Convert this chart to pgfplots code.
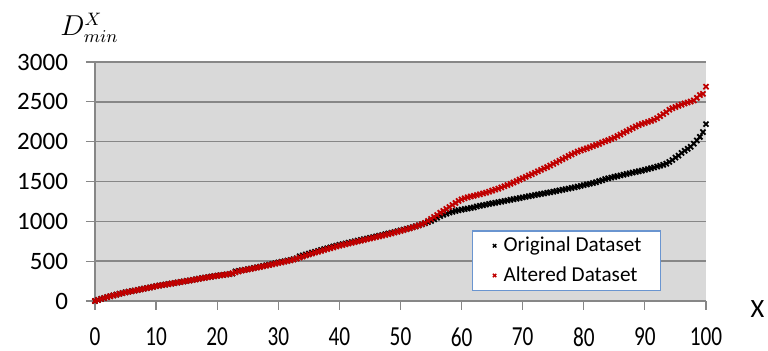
\documentclass[border=0pt]{standalone}
\usepackage{pgfplots}
\usepackage{pgfplotstable}
\pgfplotsset{compat=1.18}
\usepackage{fontspec}
\setmainfont{Carlito}
\definecolor{bggray}{HTML}{D9D9D9}
\definecolor{gridgray}{HTML}{878787}
\definecolor{darkred}{HTML}{C00000}
\definecolor{legblue}{HTML}{6A95D0}
\pgfplotsset{mylegimg/.style={legend image code/.code={\path[draw=none] (-3pt,0pt) (3pt,0pt);\draw[##1, mark size=1.2pt, line width=0.7pt] plot coordinates {(0pt,0pt)};}}}

\pgfplotstableread{
x y
0 0
0.5 14
1 27
1.5 38
2 50
2.5 60
3 70
3.5 80
4 90
4.5 100
5 110
5.5 117
6 124
6.5 131
7 139
7.5 147
8 155
8.5 162
9 170
9.5 179
10 188
10.5 194
11 200
11.5 206
12 213
12.5 219
13 226
13.5 232
14 239
14.5 245
15 252
15.5 258
16 265
16.5 272
17 280
17.5 287
18 294
18.5 300
19 306
19.5 312
20 318
20.5 323
21 328
21.5 333
22 338
22.5 344
23 372
23.5 378
24 385
24.5 392
25 400
25.5 407
26 415
26.5 423
27 431
27.5 439
28 448
28.5 456
29 465
29.5 474
30 483
30.5 491
31 499
31.5 507
32 515
32.5 525
33 536
33.5 560
34 572
34.5 584
35 596
35.5 607
36 618
36.5 629
37 640
37.5 651
38 662
38.5 673
39 684
39.5 694
40 704
40.5 713
41 722
41.5 731
42 740
42.5 749
43 758
43.5 767
44 776
44.5 785
45 794
45.5 802
46 811
46.5 820
47 829
47.5 838
48 847
48.5 856
49 866
49.5 876
50 886
50.5 896
51 906
51.5 916
52 927
52.5 938
53 950
53.5 962
54 975
54.5 990
55 1005
55.5 1025
56 1045
56.5 1065
57 1082
57.5 1097
58 1110
58.5 1120
59 1130
59.5 1139
60 1147
60.5 1154
61 1161
61.5 1168
62 1175
62.5 1187
63 1195
63.5 1202
64 1210
64.5 1218
65 1225
65.5 1232
66 1240
66.5 1247
67 1255
67.5 1262
68 1270
68.5 1277
69 1285
69.5 1292
70 1300
70.5 1307
71 1315
71.5 1322
72 1330
72.5 1337
73 1344
73.5 1351
74 1358
74.5 1365
75 1372
75.5 1380
76 1388
76.5 1396
77 1404
77.5 1411
78 1419
78.5 1427
79 1436
79.5 1445
80 1455
80.5 1464
81 1472
81.5 1481
82 1490
82.5 1505
83 1515
83.5 1530
84 1540
84.5 1549
85 1558
85.5 1567
86 1576
86.5 1585
87 1594
87.5 1603
88 1612
88.5 1620
89 1628
89.5 1637
90 1646
90.5 1656
91 1666
91.5 1676
92 1687
92.5 1698
93 1710
93.5 1724
94 1745
94.5 1770
95 1800
95.5 1825
96 1858
96.5 1885
97 1910
97.5 1936
98 1975
98.5 2015
99 2060
99.5 2120
100 2220
}\origdata

\pgfplotstableread{
x y
0 0
0.5 12
1 25
1.5 37
2 49
2.5 59
3 69
3.5 79
4 89
4.5 99
5 108
5.5 116
6 123
6.5 130
7 138
7.5 146
8 154
8.5 161
9 169
9.5 177
10 186
10.5 193
11 199
11.5 205
12 212
12.5 218
13 225
13.5 231
14 238
14.5 244
15 251
15.5 257
16 264
16.5 271
17 278
17.5 285
18 292
18.5 298
19 304
19.5 310
20 316
20.5 322
21 327
21.5 332
22 338
22.5 348
23 360
23.5 372
24 382
24.5 389
25 396
25.5 403
26 411
26.5 419
27 427
27.5 435
28 443
28.5 451
29 459
29.5 468
30 477
30.5 485
31 493
31.5 501
32 510
32.5 520
33 532
33.5 545
34 558
34.5 571
35 583
35.5 595
36 607
36.5 618
37 629
37.5 640
38 651
38.5 662
39 673
39.5 684
40 694
40.5 703
41 712
41.5 721
42 730
42.5 739
43 748
43.5 757
44 766
44.5 775
45 784
45.5 793
46 802
46.5 811
47 820
47.5 829
48 839
48.5 849
49 859
49.5 869
50 879
50.5 890
51 901
51.5 912
52 924
52.5 936
53 949
53.5 963
54 980
54.5 1005
55 1030
55.5 1055
56 1080
56.5 1108
57 1130
57.5 1155
58 1180
58.5 1205
59 1230
59.5 1255
60 1275
60.5 1290
61 1302
61.5 1312
62 1320
62.5 1330
63 1340
63.5 1350
64 1360
64.5 1372
65 1385
65.5 1398
66 1410
66.5 1425
67 1440
67.5 1455
68 1470
68.5 1487
69 1505
69.5 1523
70 1541
70.5 1558
71 1575
71.5 1592
72 1610
72.5 1628
73 1646
73.5 1663
74 1680
74.5 1700
75 1720
75.5 1740
76 1760
76.5 1780
77 1800
77.5 1820
78 1840
78.5 1858
79 1875
79.5 1890
80 1903
80.5 1916
81 1930
81.5 1944
82 1958
82.5 1972
83 1990
83.5 2005
84 2018
84.5 2034
85 2050
85.5 2070
86 2090
86.5 2110
87 2130
87.5 2150
88 2170
88.5 2190
89 2208
89.5 2222
90 2235
90.5 2248
91 2260
91.5 2275
92 2295
92.5 2320
93 2345
93.5 2370
94 2400
94.5 2420
95 2435
95.5 2450
96 2465
96.5 2480
97 2492
97.5 2503
98 2518
98.5 2550
99 2585
99.5 2600
100 2690
}\altdata

\begin{document}
\begin{tikzpicture}
\useasboundingbox (0,0) rectangle (384pt,175.5pt);
\begin{axis}[
  at={(47.5pt,25pt)}, anchor=south west,
  scale only axis, width=305.5pt, height=119.5pt,
  xmin=0, xmax=100, ymin=0, ymax=3000,
  xtick={0,10,...,100}, ytick={0,500,...,3000},
  axis background/.style={fill=bggray},
  axis x line*=bottom, axis y line*=left,
  axis line style={gridgray, line width=0.8pt, -},
  ymajorgrids, major grid style={gridgray, line width=0.8pt},
  tick align=outside, major tick length=4.5pt,
  tick style={gridgray, line width=0.6pt},
  /pgf/number format/assume math mode=true,
  /pgf/number format/1000 sep={},
  ticklabel style={font=\fontsize{12.5}{14}\selectfont, text=black},
  yticklabel style={anchor=east, xshift=-5.5pt},
  xticklabel style={anchor=north, yshift=-5.5pt},
  xticklabel={\scalebox{0.85}[1.1]{\pgfmathprintnumber{\tick}}},
  clip=false,
  legend style={at={(0.617,0.042)}, anchor=south west, draw=legblue,
    line width=0.6pt, fill=white, font=\fontsize{10.6}{12.7}\selectfont,
    inner xsep=8pt, inner ysep=1.5pt, row sep=3pt,
    nodes={inner sep=1.5pt}},
  legend cell align=left,
]
\addplot[only marks, mark=x, mark size=1.8pt, line width=0.9pt, black, mylegimg]
  table[x=x, y=y] {\origdata};
\addlegendentry{Original Dataset}
\addplot[only marks, mark=x, mark size=1.8pt, line width=0.9pt, darkred, mylegimg]
  table[x=x, y=y] {\altdata};
\addlegendentry{Altered Dataset}
\end{axis}
\node at (378.75pt,20.75pt) {\fontsize{13.2}{15}\selectfont X};
\node at (44.75pt,161.5pt) {\fontsize{13.5}{15}\selectfont $D^{X}_{min}$};
\end{tikzpicture}
\end{document}
